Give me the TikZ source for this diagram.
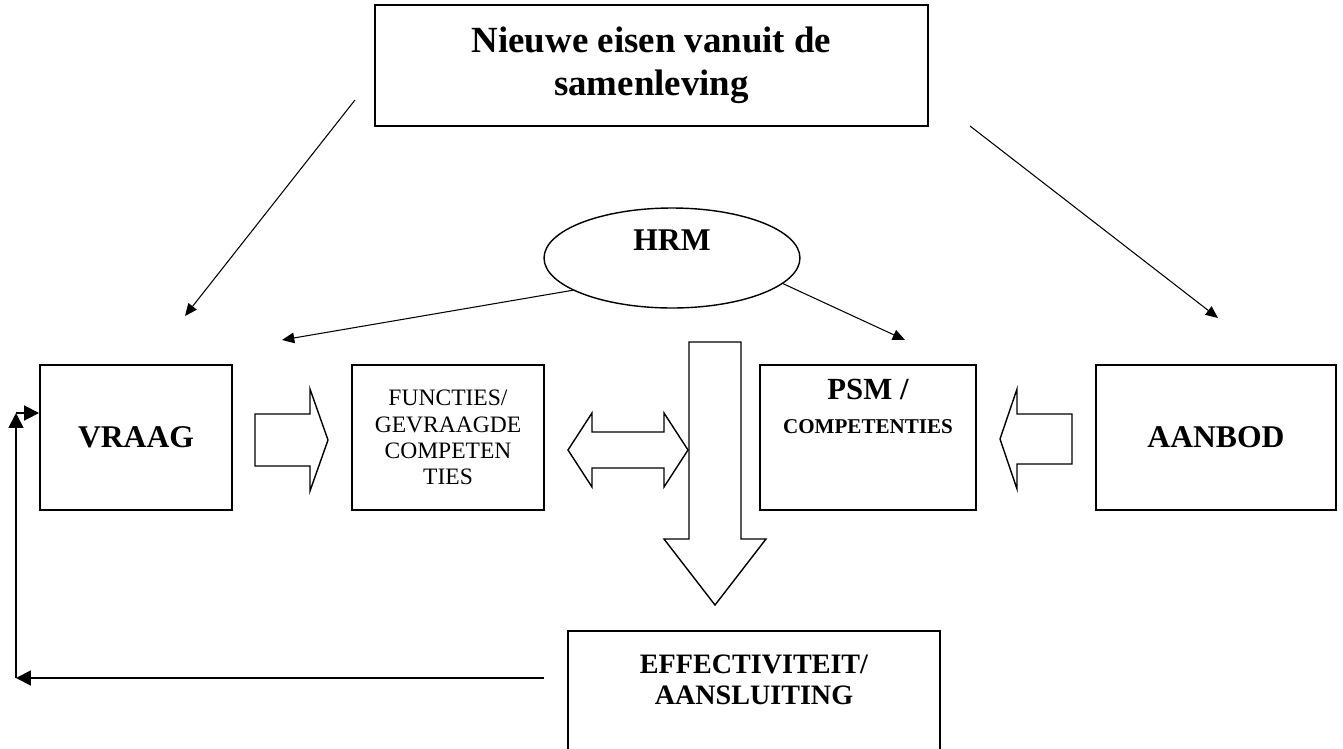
\documentclass[tikz,border=0pt]{standalone}
\usepackage{fontspec}
\setmainfont{Liberation Serif}
\usetikzlibrary{arrows.meta,shapes.geometric}

\begin{document}
\begin{tikzpicture}[x=0.02cm,y=-0.02cm,>={Triangle[length=7pt,width=6pt]},
        box/.style={rectangle,draw,line width=1.1pt,minimum height=2.9cm,inner sep=0pt,align=center,
          font=\fontsize{18}{22}\selectfont\bfseries},
        hrm node/.style={ellipse,draw,line width=0.8pt,minimum width=5.12cm,minimum height=2cm,inner sep=0pt,
          text height=13pt,text depth=21pt,font=\fontsize{18}{22}\selectfont\bfseries},
        block arrow/.style={draw,fill=white,line width=0.8pt,line join=miter},
        thin arrow/.style={->,line width=0.6pt},
        back arrow/.style={-{Triangle[length=8.5pt,width=8.5pt]},line width=1.1pt}]
        \useasboundingbox (0,0) rectangle (1343,748);
        % boxes
        \node[box, minimum width=11.06cm, minimum height=2.42cm, font=\fontsize{21}{24.5}\selectfont\bfseries] (top) at (651.5,65.5) {Nieuwe eisen vanuit de\\samenleving};
        \node[hrm node] (hrm) at (672,258) {HRM};
        \node[box, minimum width=3.84cm] (vraag) at (136,437.5) {VRAAG};
        \node[box, minimum width=3.84cm, font=\fontsize{13.4}{14.9}\selectfont] (funct) at (448,437.5)
          {FUNCTIES/\\GEVRAAGDE\\COMPETEN\\TIES};
        \node[box, minimum width=4.32cm, font=\fontsize{17.5}{19.5}\selectfont\bfseries] (psm) at (868,437.5)
          {\parbox[c][2.7cm][t]{4cm}{\centering\vspace{5pt}PSM /\\{\fontsize{12}{14}\selectfont COMPETENTIES}}};
        \node[box, minimum width=4.8cm] (aanbod) at (1216,437.5) {AANBOD};
        \node[box, minimum width=7.44cm, minimum height=2.8cm, anchor=north, font=\fontsize{16}{17.6}\selectfont\bfseries] (eff) at (754,630)
          {\parbox[c][2.6cm][t]{6.5cm}{\centering\vspace{11pt}EFFECTIVITEIT/\\AANSLUITING}};

        % block arrows
        \draw[block arrow] (255,414) -- (310,414) -- (310,389) -- (328,440) -- (310,491) -- (310,466) -- (255,466) -- cycle;
        \draw[block arrow] (568,450) -- (592,413) -- (592,432) -- (664,432) -- (664,413) -- (688,450)
          -- (664,487) -- (664,468) -- (592,468) -- (592,487) -- cycle;
        \draw[block arrow] (689,342) -- (741,342) -- (741,539) -- (766,539) -- (715,605) -- (664,539) -- (689,539) -- cycle;
        \draw[block arrow] (1072,414) -- (1017,414) -- (1017,389) -- (1000,439) -- (1017,489) -- (1017,464) -- (1072,464) -- cycle;

        % arrows
        \coordinate (nl) at (355,100);
        \coordinate (vl) at (185,316);
        \coordinate (nr) at (970,126);
        \coordinate (ar) at (1218,318);
        \coordinate (fl) at (282,340);
        \coordinate (pr) at (905,340);
        \path[thin arrow]
        (nl) edge (vl)
        (nr) edge (ar)
        (hrm.198) edge (fl)
        (hrm.-13) edge (pr)
        ;
        \coordinate (fb1) at (544,678);
        \coordinate (fb2) at (16,678);
        \coordinate (fb3) at (16,413);
        \path[back arrow]
        (fb1) edge (fb2)
        (fb2) edge (fb3)
        (fb3) edge (vraag.west |- fb3)
        ;
\end{tikzpicture}
\end{document}
